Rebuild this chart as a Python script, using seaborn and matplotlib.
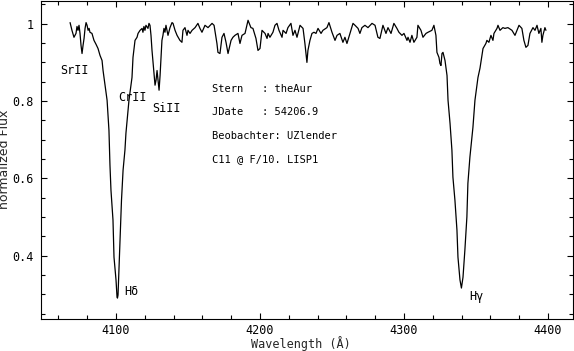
import pandas as pd
import matplotlib
matplotlib.use("Agg")
import matplotlib.pyplot as plt
import seaborn as sns
from matplotlib.ticker import MultipleLocator, FixedLocator, FixedFormatter

# Spektrum (normiert)
wellenlaenge = [
    4068.1, 4069.4, 4070.8, 4072.2, 4072.9, 4073.6, 4074.3, 4075.0, 4075.7, 4076.4,
    4077.1, 4077.8, 4078.5, 4079.2, 4079.9, 4080.6, 4081.3, 4081.9, 4083.3, 4084.7,
    4086.1, 4087.5, 4088.9, 4090.3, 4091.0, 4092.4, 4093.8, 4095.1, 4095.8, 4096.5,
    4097.9, 4098.6, 4100.0, 4100.7, 4101.0, 4101.4, 4102.1, 4102.8, 4103.8, 4104.9,
    4106.2, 4106.9, 4109.0, 4111.1, 4111.8, 4113.2, 4114.6, 4115.3, 4116.7, 4118.1,
    4118.7, 4119.4, 4120.1, 4120.8, 4122.2, 4122.9, 4123.6, 4124.3, 4125.0, 4125.7,
    4126.4, 4127.1, 4127.8, 4128.5, 4129.2, 4129.9, 4130.6, 4131.3, 4131.9, 4132.6,
    4133.3, 4134.0, 4134.7, 4135.4, 4136.1, 4137.5, 4138.9, 4139.6, 4141.0, 4142.4,
    4144.4, 4145.8, 4146.5, 4147.9, 4149.3, 4150.0, 4151.4, 4152.8, 4154.9, 4156.9,
    4158.3, 4159.7, 4161.8, 4163.9, 4166.7, 4168.1, 4170.1, 4170.8, 4172.2, 4173.6,
    4175.0, 4176.4, 4177.8, 4179.9, 4181.2, 4182.6, 4184.7, 4186.1, 4187.5, 4189.6,
    4191.7, 4193.7, 4195.1, 4197.2, 4198.6, 4200.0, 4201.4, 4203.5, 4204.9, 4205.6,
    4206.9, 4209.0, 4210.4, 4211.8, 4213.2, 4215.3, 4216.0, 4218.1, 4219.4, 4221.5,
    4222.9, 4224.3, 4225.7, 4227.8, 4229.9, 4231.2, 4232.6, 4233.3, 4234.7, 4236.1,
    4237.5, 4238.9, 4240.3, 4242.4, 4243.7, 4246.5, 4247.9, 4250.0, 4252.1, 4253.5,
    4255.5, 4257.6, 4259.0, 4260.4, 4262.5, 4264.6, 4266.0, 4268.1, 4269.4, 4270.8,
    4272.9, 4275.0, 4277.8, 4279.9, 4281.9, 4283.3, 4285.4, 4287.5, 4288.9, 4291.0,
    4293.0, 4295.1, 4296.5, 4298.6, 4300.0, 4302.1, 4302.8, 4304.2, 4305.5, 4306.9,
    4309.0, 4309.7, 4311.8, 4313.2, 4315.3, 4316.7, 4319.4, 4320.8, 4322.2, 4322.9,
    4324.3, 4325.0, 4325.7, 4326.4, 4327.1, 4328.5, 4329.9, 4330.6, 4332.0, 4333.3,
    4334.0, 4335.4, 4336.8, 4337.5, 4338.9, 4339.9, 4341.0, 4342.3, 4343.7, 4344.4,
    4345.8, 4347.9, 4349.3, 4351.4, 4352.8, 4354.2, 4354.9, 4356.9, 4357.6, 4359.0,
    4360.4, 4361.8, 4362.5, 4364.6, 4365.3, 4366.7, 4368.7, 4370.1, 4372.2, 4375.0,
    4377.1, 4378.5, 4379.9, 4381.9, 4383.3, 4384.7, 4386.1, 4387.5, 4389.6, 4391.0,
    4392.4, 4393.7, 4395.1, 4395.8, 4396.5, 4397.9, 4398.6,
]
fluss = [
    1.003, 0.983, 0.965, 0.975, 0.993, 0.983, 0.996, 0.975, 0.944, 0.923,
    0.944, 0.962, 0.988, 1.003, 0.996, 0.983, 0.988, 0.978, 0.975, 0.957,
    0.947, 0.936, 0.918, 0.905, 0.879, 0.841, 0.802, 0.724, 0.634, 0.569,
    0.492, 0.396, 0.337, 0.293, 0.290, 0.298, 0.368, 0.440, 0.543, 0.621,
    0.673, 0.717, 0.802, 0.861, 0.913, 0.957, 0.965, 0.975, 0.983, 0.988,
    0.978, 0.993, 0.983, 0.996, 0.988, 1.001, 0.996, 0.970, 0.931, 0.900,
    0.866, 0.841, 0.854, 0.879, 0.854, 0.828, 0.866, 0.918, 0.957, 0.970,
    0.988, 0.978, 0.996, 0.983, 0.970, 0.990, 1.003, 1.001, 0.983, 0.970,
    0.957, 0.952, 0.983, 0.990, 0.970, 0.983, 0.975, 0.983, 0.990, 1.001,
    0.988, 0.978, 0.996, 0.990, 1.001, 0.996, 0.949, 0.926, 0.923, 0.965,
    0.975, 0.952, 0.923, 0.957, 0.965, 0.970, 0.975, 0.949, 0.970, 0.975,
    1.009, 0.990, 0.988, 0.962, 0.931, 0.936, 0.983, 0.975, 0.962, 0.975,
    0.965, 0.978, 0.996, 1.001, 0.983, 0.965, 0.983, 0.975, 0.990, 1.001,
    0.970, 0.983, 0.965, 0.996, 0.988, 0.949, 0.900, 0.931, 0.957, 0.975,
    0.978, 0.975, 0.988, 0.975, 0.983, 0.990, 1.003, 0.978, 0.957, 0.970,
    0.975, 0.952, 0.965, 0.949, 0.975, 1.001, 0.996, 0.988, 0.975, 0.990,
    0.996, 0.990, 1.001, 0.996, 0.965, 0.962, 0.996, 0.975, 0.990, 0.975,
    1.001, 0.988, 0.978, 0.970, 0.975, 0.957, 0.965, 0.952, 0.970, 0.952,
    0.965, 0.996, 0.983, 0.965, 0.975, 0.978, 0.983, 0.996, 0.970, 0.926,
    0.913, 0.897, 0.892, 0.923, 0.926, 0.905, 0.866, 0.802, 0.742, 0.673,
    0.603, 0.543, 0.466, 0.396, 0.337, 0.316, 0.344, 0.414, 0.500, 0.587,
    0.655, 0.732, 0.802, 0.861, 0.885, 0.918, 0.936, 0.949, 0.957, 0.952,
    0.970, 0.957, 0.975, 0.988, 0.996, 0.983, 0.990, 0.988, 0.990, 0.983,
    0.970, 0.983, 0.996, 0.988, 0.957, 0.939, 0.944, 0.975, 0.990, 0.983,
    0.996, 0.975, 0.988, 0.952, 0.970, 0.990, 0.983,
]

# Linienbezeichnungen
linien_namen = ["SrII", "CrII", "SiII", "Hδ", "Hγ"]
linien_x = [4061.1, 4101.4, 4125.0, 4105.6, 4345.1]
linien_y = [0.879, 0.810, 0.781, 0.306, 0.293]

# Infoblock
info_text = [
    "Stern   : theAur",
    "JDate   : 54206.9",
    "Beobachter: UZlender",
    "C11 @ F/10. LISP1",
]
info_y = [0.830, 0.771, 0.709, 0.649]

sns.set_theme(style="ticks")
plt.rcParams["font.family"] = ["DejaVu Sans Mono", "DejaVu Sans"]

df = pd.DataFrame({"Wellenlaenge": wellenlaenge, "Fluss": fluss})

fig = plt.figure(figsize=(5.74, 3.51), dpi=100)
ax = fig.add_axes([41 / 574, 1 - 319 / 351, 532 / 574, 318.5 / 351])

sns.lineplot(data=df, x="Wellenlaenge", y="Fluss", ax=ax, color="black",
             linewidth=0.9, sort=False, estimator=None)

ax.set_xlim(4047.9, 4417.4)
ax.set_ylim(0.2359, 1.0602)

ax.xaxis.set_major_locator(MultipleLocator(100))
ax.xaxis.set_minor_locator(MultipleLocator(20))
ax.yaxis.set_major_locator(FixedLocator([0.4, 0.6, 0.8, 1.0]))
ax.yaxis.set_major_formatter(FixedFormatter(["0.4", "0.6", "0.8", "1"]))
ax.yaxis.set_minor_locator(MultipleLocator(0.05))

ax.tick_params(which="both", direction="in", top=True, right=True,
               colors="black", width=0.8, labelsize=8.5)
ax.tick_params(which="major", length=4.5)
ax.tick_params(which="minor", length=3.2)
ax.tick_params(axis="x", pad=3.5)
ax.tick_params(axis="y", pad=5.5)
for s in ax.spines.values():
    s.set_color("black")
    s.set_linewidth(0.8)

ax.set_xlabel("Wavelength (Å)", fontsize=8.5)
ax.set_ylabel("normalized Flux", fontsize=9, family="DejaVu Sans")
ax.xaxis.set_label_coords(0.489, -0.054)
ax.yaxis.set_label_coords(-0.0555, 0.5)

for name, lx, ly in zip(linien_namen, linien_x, linien_y):
    ax.text(lx, ly, name, fontsize=8.5, ha="left", va="center", color="black")

for zeile, iy in zip(info_text, info_y):
    ax.text(4166.7, iy, zeile, fontsize=7.5, ha="left", va="center", color="black")

fig.savefig("out.png", dpi=100)
